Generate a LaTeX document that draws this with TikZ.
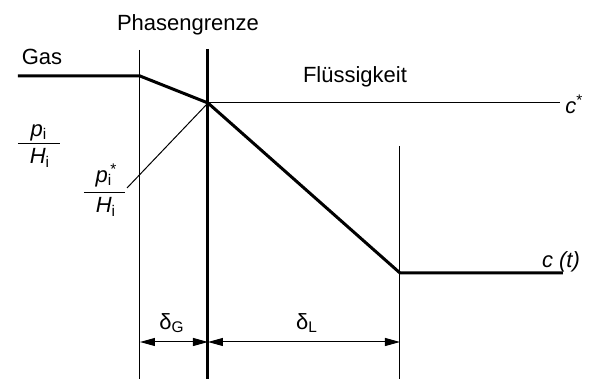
\documentclass[tikz,border=0pt]{standalone}
\usepackage{fontspec}
\setmainfont{Liberation Sans}
\usetikzlibrary{arrows.meta}

\begin{document}
\begin{tikzpicture}[x=0.5pt, y=-0.5pt,
    thinline/.style={line width=0.5pt},
    thickline/.style={line width=1.5pt},
    dim/.style={line width=0.5pt, {Triangle[length=7.5pt,width=4pt]}-{Triangle[length=7.5pt,width=4pt]}},
    lbl/.style={font=\fontsize{11}{12}\selectfont, inner sep=0pt},
    sub/.style={font=\fontsize{6}{7}\selectfont}]
    \useasboundingbox (0,0) rectangle (591,379);
    % profile points
    \coordinate (gasstart) at (18,76);
    \coordinate (gasend) at (140,76);
    \coordinate (ifc) at (208,103);
    \coordinate (bulk) at (400,273);
    \coordinate (bulkend) at (563,273);
    \coordinate (cstarend) at (560,103);
    % boundary lines
    \coordinate (gtop) at (140,50);
    \coordinate (gbot) at (140,379);
    \coordinate (ptop) at (208,49);
    \coordinate (pbot) at (208,379);
    \coordinate (ltop) at (400,146);
    \coordinate (lbot) at (400,379);
    \draw[thinline] (gtop) -- (gbot);
    \draw[thickline] (ptop) -- (pbot);
    \draw[thinline] (ltop) -- (lbot);
    % concentration profile
    \draw[thickline] (gasstart) -- (gasend) -- (ifc) -- (bulk) -- (bulkend);
    \draw[thinline] (ifc) -- (cstarend);
    % fractions
    \coordinate (pbarl) at (18,144);
    \coordinate (pbarr) at (60,144);
    \coordinate (psbarl) at (84,193);
    \coordinate (psbarr) at (125,193);
    \draw[thinline] (pbarl) -- (pbarr);
    \draw[thinline] (psbarl) -- (psbarr);
    \draw[thinline] (ifc) -- (127,188);
    \node[lbl, anchor=south] (pnum) at (39,141) {\textit{p}\textsubscript{i}};
    \node[lbl, anchor=north] (pden) at (40,148) {\textit{H}\textsubscript{i}};
    \node[lbl, anchor=south] (psnum) at (104,187) {\textit{p}\rlap{\textsuperscript{\,*}}\textsubscript{i}};
    \node[lbl, anchor=north] (psden) at (106,197) {\textit{H}\textsubscript{i}};
    % texts
    \node[lbl] (gas) at (42,57) {Gas};
    \node[lbl] (phase) at (188,25) {Phasengrenze};
    \node[lbl] (liquid) at (355,77) {Flüssigkeit};
    \node[lbl, anchor=west] (cstar) at (565,104) {\textit{c}\textsuperscript{*}};
    \node[lbl] (ct) at (561,262) {\textit{c (t)}};
    % film thicknesses
    \coordinate (dgl) at (140,342);
    \coordinate (dgr) at (208,342);
    \coordinate (dlr) at (400,342);
    \draw[dim] (dgl) -- (dgr);
    \draw[dim] (dgr) -- (dlr);
    \node[lbl] (deltaG) at (172,323) {δ\textsubscript{G}};
    \node[lbl] (deltaL) at (307,323) {δ\textsubscript{L}};
\end{tikzpicture}
\end{document}
